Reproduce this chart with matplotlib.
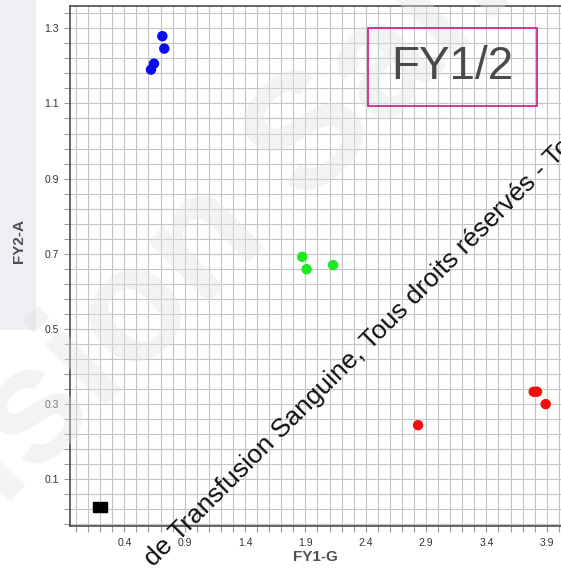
import numpy as np
import matplotlib
matplotlib.use("Agg")
import matplotlib.pyplot as plt
from matplotlib.patches import Rectangle
from matplotlib.ticker import FixedLocator

plt.rcParams['font.family'] = ['Liberation Sans', 'DejaVu Sans']

# ---- data ----
blue_x = [0.715, 0.731, 0.646, 0.621]
blue_y = [1.279, 1.246, 1.206, 1.190]
green_x = [1.874, 1.910, 2.130]
green_y = [0.692, 0.659, 0.670]
red_x = [2.834, 3.792, 3.819, 3.891]
red_y = [0.244, 0.333, 0.333, 0.300]
black_x = [0.199]
black_y = [0.026]
x_ticks = [0.4, 0.9, 1.4, 1.9, 2.4, 2.9, 3.4, 3.9]
y_ticks = [0.1, 0.3, 0.5, 0.7, 0.9, 1.1, 1.3]
x_label = "FY1-G"
y_label = "FY2-A"
title_box = "FY1/2"
watermark = "de Transfusion Sanguine, Tous droits réservés - Toute reproduction interdite"
faint_text = "Transfusion Sanguine"

W, H = 561, 568
fig = plt.figure(figsize=(W / 100, H / 100), dpi=100)
fig.patch.set_facecolor('white')

# grey left panel
fig.patches.append(Rectangle((0, (H - 330) / H), 36 / W, 330 / H,
                             transform=fig.transFigure, facecolor='#eeeef3',
                             edgecolor='none', zorder=0))

left, right, top, bottom = 70, 561, 6, 525.7
ax = fig.add_axes([left / W, (H - bottom) / H, (right - left) / W, (bottom - top) / H])
ax.set_facecolor('none')
ax.set_xlim(-0.05, 4.018)
ax.set_ylim(-0.0234, 1.3593)

ax.xaxis.set_major_locator(FixedLocator(x_ticks))
ax.xaxis.set_minor_locator(FixedLocator(np.round(np.arange(0, 4.05, 0.1), 2)))
ax.yaxis.set_major_locator(FixedLocator(y_ticks))
ax.yaxis.set_minor_locator(FixedLocator(np.round(np.arange(-0.02, 1.36, 0.04), 2)))
ax.set_xticklabels([f"{v:.1f}" for v in x_ticks])
ax.set_yticklabels([f"{v:.1f}" for v in y_ticks])

ax.grid(True, which='both', color='#c4c4c4', linewidth=0.8, zorder=0)
ax.set_axisbelow(True)
ax.tick_params(which='both', direction='out', length=4, width=0.8, color='#9a9a9a',
               labelsize=7.5, labelcolor='#333333')
ax.tick_params(axis='x', which='both', pad=5)
ax.tick_params(axis='y', which='both', pad=4)

for s in ['left', 'bottom', 'top']:
    ax.spines[s].set_color('#4a4a4a')
    ax.spines[s].set_linewidth(1.2)
ax.spines['right'].set_visible(False)

ax.scatter(blue_x, blue_y, s=7.5 ** 2, color='#0b0bf2', edgecolors='none', zorder=3)
ax.scatter(green_x, green_y, s=7.5 ** 2, color='#1ee81e', edgecolors='none', zorder=3)
ax.scatter(red_x, red_y, s=7.5 ** 2, color='#f50d0d', edgecolors='none', zorder=3)
rect_marker = [(-0.75, -0.5), (0.75, -0.5), (0.75, 0.5), (-0.75, 0.5), (-0.75, -0.5)]
ax.plot(black_x, black_y, linestyle='none', marker=rect_marker, markersize=10.6,
        color='black', zorder=3)

ax.set_xlabel(x_label, fontsize=11, fontweight='bold', color='#505050', labelpad=1)
fig.text(19 / W, (H - 241) / H, y_label, rotation=90, fontsize=11, fontweight='bold',
         color='#505050', ha='center', va='center')

# FY1/2 box
bx0, by0, bx1, by1 = 368.3, 28.3, 537.3, 106
fig.patches.append(Rectangle((bx0 / W, (H - by1) / H), (bx1 - bx0) / W, (by1 - by0) / H,
                             transform=fig.transFigure, facecolor='none',
                             edgecolor='#d0168a', linewidth=1.2, zorder=5))
fig.text((bx0 + bx1) / 2 / W, (H - (by0 + by1) / 2) / H, title_box, fontsize=33,
         color='#4a4a4a', ha='center', va='center')

# faint large background watermark, anchored on the "o" of "sion"
fsize = 118
renderer = fig.canvas.get_renderer()
def text_width(t):
    tmp = fig.text(0, 0, t, fontsize=fsize, fontweight='bold')
    w = tmp.get_window_extent(renderer).width
    tmp.remove()
    return w
w1 = text_width("Transfusi")
w2 = text_width("Transfusio")
along_o = (w1 + w2) / 2
E = fsize * 100 / 72
c = np.cos(np.pi / 4)
ocx, ocy = 136, 315
bx = ocx + 0.26 * E * c
by = ocy + 0.26 * E * c
start_x = bx - along_o * c
start_y = by + along_o * c
fig.text(start_x / W, (H - start_y) / H, faint_text, rotation=45, rotation_mode='anchor',
         ha='left', va='baseline', fontsize=fsize, fontweight='bold',
         color='#e2e2e2', alpha=0.4, zorder=2)

# diagonal watermark
fig.text(153 / W, (H - 567) / H, watermark, rotation=45, rotation_mode='anchor',
         ha='left', va='baseline', fontsize=19, color='#111111', zorder=10)

fig.savefig('out.png', dpi=100)
